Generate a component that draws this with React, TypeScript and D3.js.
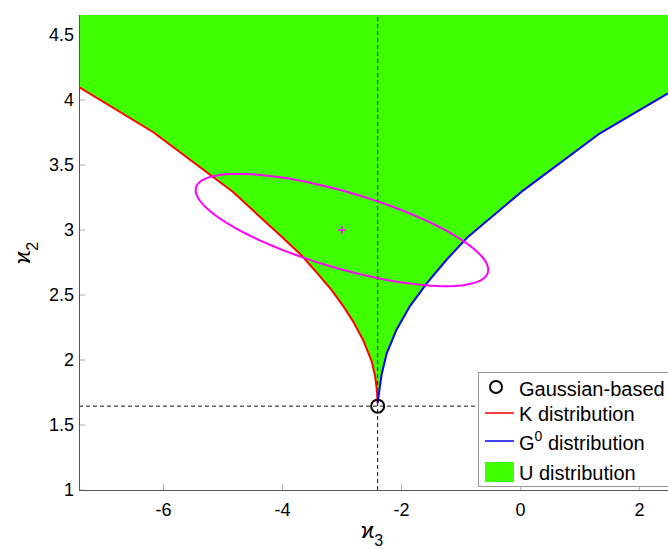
import React from "react";
import * as d3 from "d3";

const W = 668;
const H = 549;

// axis domains
const X_DOMAIN: [number, number] = [-7.42, 2.48];
const Y_DOMAIN: [number, number] = [1, 4.654];

const xTicks = [-6, -4, -2, 0, 2];
const xTickLabels = ["-6", "-4", "-2", "0", "2"];
const yTicks = [1, 1.5, 2, 2.5, 3, 3.5, 4, 4.5];
const yTickLabels = ["1", "1.5", "2", "2.5", "3", "3.5", "4", "4.5"];

// K distribution boundary (red)
const kX = [-7.42, -6.17, -4.83, -3.99, -3.67, -3.42, -3.17, -2.98, -2.81, -2.64, -2.5, -2.445, -2.415, -2.4];
const kY = [4.1, 3.752, 3.292, 2.938, 2.8, 2.67, 2.535, 2.415, 2.295, 2.15, 1.99, 1.88, 1.78, 1.67];

// G0 distribution boundary (blue)
const gX = [-2.4, -2.38, -2.333, -2.249, -2.081, -1.857, -1.576, -1.235, -0.899, 0.02, 1.336, 2.48];
const gY = [1.67, 1.74, 1.89, 2.05, 2.235, 2.415, 2.59, 2.775, 2.94, 3.295, 3.744, 4.052];

// Gaussian-based point
const gaussX = -2.4;
const gaussY = 1.645;

// sample estimate and its confidence ellipse
const estX = -3;
const estY = 3;
const ellMajor = [2.452, -0.328];
const ellMinor = [-0.18, -0.281];

const FONT = "'Liberation Sans', Arial, Helvetica, sans-serif";
const GREEN = "#40ff00";

export default function App() {
  const x = d3.scaleLinear().domain(X_DOMAIN).range([79, 668]);
  const y = d3.scaleLinear().domain(Y_DOMAIN).range([490, 15]);

  const kPts: [number, number][] = kX.map((v, i) => [v, kY[i]]);
  const gPts: [number, number][] = gX.map((v, i) => [v, gY[i]]);

  const line = d3
    .line<[number, number]>()
    .x((d) => x(d[0]))
    .y((d) => y(d[1]));

  const regionPts: [number, number][] = [
    [X_DOMAIN[0], Y_DOMAIN[1]],
    ...kPts,
    ...gPts.slice(1),
    [X_DOMAIN[1], Y_DOMAIN[1]],
  ];
  const regionPath = line(regionPts) + "Z";

  const angles = d3.range(0, 361, 3).map((a) => (a * Math.PI) / 180);
  const ellPts: [number, number][] = angles.map((t) => [
    estX + ellMajor[0] * Math.cos(t) + ellMinor[0] * Math.sin(t),
    estY + ellMajor[1] * Math.cos(t) + ellMinor[1] * Math.sin(t),
  ]);

  const px0 = x(X_DOMAIN[0]);
  const py0 = y(Y_DOMAIN[0]);
  const pyTop = y(Y_DOMAIN[1]);

  return (
    <svg
      width={W}
      height={H}
      style={{ position: "absolute", left: 0, top: 0, background: "#fff" }}
      fontFamily={FONT}
    >
      <defs>
        <clipPath id="plotClip">
          <rect x={px0} y={pyTop} width={W - px0} height={py0 - pyTop} />
        </clipPath>
      </defs>

      {/* ticks (under the fill) */}
      {xTicks.map((t) => (
        <line key={"xt" + t} x1={x(t)} x2={x(t)} y1={py0} y2={py0 - 6} stroke="#aaa" strokeWidth={1} />
      ))}
      {yTicks.map((t) => (
        <line key={"yt" + t} x1={px0} x2={px0 + 6} y1={y(t)} y2={y(t)} stroke="#aaa" strokeWidth={1} />
      ))}

      <g clipPath="url(#plotClip)">
        <path d={regionPath} fill={GREEN} stroke="none" />
        <line x1={x(gaussX)} x2={x(gaussX)} y1={py0} y2={pyTop} stroke="#111" strokeWidth={1} strokeDasharray="4,3" />
        <line x1={px0} x2={W} y1={y(gaussY)} y2={y(gaussY)} stroke="#111" strokeWidth={1} strokeDasharray="4,3" />
        <path d={line(kPts) || ""} fill="none" stroke="#ff0000" strokeWidth={2} strokeLinejoin="round" />
        <path d={line(gPts) || ""} fill="none" stroke="#0000ff" strokeWidth={2} strokeLinejoin="round" />
        <path d={line(ellPts) || ""} fill="none" stroke="#ff00ff" strokeWidth={2} />
        <line x1={x(estX) - 4} x2={x(estX) + 4} y1={y(estY)} y2={y(estY)} stroke="#ff00ff" strokeWidth={1.5} />
        <line x1={x(estX)} x2={x(estX)} y1={y(estY) - 4} y2={y(estY) + 4} stroke="#ff00ff" strokeWidth={1.5} />
        <circle cx={x(gaussX)} cy={y(gaussY)} r={6.5} fill="none" stroke="#000" strokeWidth={2} />
      </g>

      {/* axes */}
      <line x1={79.5} x2={79.5} y1={pyTop} y2={py0 + 0.5} stroke="#555" strokeWidth={1} />
      <line x1={79} x2={W} y1={490.5} y2={490.5} stroke="#555" strokeWidth={1} />

      {/* tick labels */}
      {xTicks.map((t, i) => (
        <text key={"xl" + t} x={x(t)} y={516} fontSize={18} textAnchor="middle" fill="#000">
          {xTickLabels[i]}
        </text>
      ))}
      {yTicks.map((t, i) => (
        <text key={"yl" + t} x={74} y={y(t)} dy="0.35em" fontSize={18} textAnchor="end" fill="#000">
          {yTickLabels[i]}
        </text>
      ))}

      {/* axis labels */}
      <text x={372} y={538} fontSize={22} textAnchor="middle" fill="#000">
        ϰ<tspan fontSize={16} dy={8}>3</tspan>
      </text>
      <text transform="translate(30,253) rotate(-90)" fontSize={22} textAnchor="middle" fill="#000">
        ϰ<tspan fontSize={16} dy={8}>2</tspan>
      </text>

      {/* legend */}
      <g>
        <rect x={478.5} y={372.5} width={220} height={114} fill="#fff" stroke="#999" strokeWidth={1} />
        <circle cx={496} cy={387} r={6} fill="none" stroke="#000" strokeWidth={2} />
        <text x={519} y={395.5} fontSize={20} fill="#000">Gaussian-based</text>
        <line x1={485} x2={514} y1={413} y2={413} stroke="#ff0000" strokeWidth={1.5} />
        <text x={519} y={420.5} fontSize={20} fill="#000">K distribution</text>
        <line x1={485} x2={514} y1={441} y2={441} stroke="#0000ff" strokeWidth={1.5} />
        <text x={519} y={450} fontSize={20} fill="#000">
          G<tspan fontSize={14} dy={-9}>0</tspan>
          <tspan dy={9}> distribution</tspan>
        </text>
        <rect x={485} y={462} width={29} height={20} fill={GREEN} />
        <text x={519} y={479.5} fontSize={20} fill="#000">U distribution</text>
      </g>
    </svg>
  );
}
